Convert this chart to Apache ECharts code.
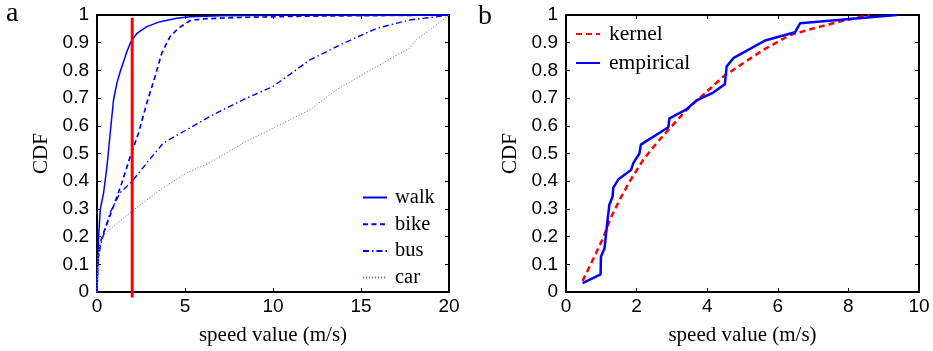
<!DOCTYPE html>
<html>
<head>
<meta charset="utf-8">
<script src="https://cdn.jsdelivr.net/npm/echarts@6/dist/echarts.min.js"></script>
<style>html,body{margin:0;padding:0;background:#fff}#c{width:933px;height:351px}</style>
</head>
<body>
<div id="c"></div>
<script>
// ---- data ----
const yTicks = [0,0.1,0.2,0.3,0.4,0.5,0.6,0.7,0.8,0.9,1];
const xTicksA = [0,5,10,15,20];
const xTicksB = [0,2,4,6,8,10];

const walkSpeed = [0,0.04,0.09,0.19,0.38,0.57,0.75,0.94,1.13,1.32,1.51,1.7,1.93,2.27,2.83,3.59,4.53,5.29,7,10,20];
const walkCdf   = [0,0.1,0.2,0.3,0.36,0.455,0.574,0.694,0.754,0.796,0.832,0.868,0.904,0.934,0.958,0.976,0.988,0.994,0.997,0.999,1];

const bikeSpeed = [0,0.05,0.19,0.38,0.94,1.42,1.89,2.36,2.83,3.3,3.68,4.15,4.62,5.29,6,8,12,20];
const bikeCdf   = [0,0.12,0.179,0.215,0.31,0.395,0.49,0.574,0.682,0.778,0.862,0.922,0.952,0.98,0.986,0.991,0.996,1];

const busSpeed = [0,0.05,0.19,0.75,1.32,2.0,2.83,3.77,5.1,6.42,8.3,10,12.1,14,15.9,17.75,19.6,20];
const busCdf   = [0,0.1,0.167,0.287,0.359,0.40,0.466,0.538,0.586,0.634,0.694,0.742,0.838,0.898,0.952,0.982,0.996,1];

const carSpeed = [0,0.05,0.19,0.75,1.89,3.77,5.1,6.42,8.3,10.2,12.1,13.6,15.5,17.75,18.13,19.9,20];
const carCdf   = [0,0.12,0.19,0.227,0.287,0.377,0.43,0.467,0.538,0.598,0.658,0.73,0.80,0.88,0.91,0.994,1];

const thresholdSpeed = [2,2];
const thresholdCdf = [-0.02,0.99];

const empSpeed = [0.47,0.98,0.99,1.09,1.18,1.23,1.32,1.34,1.48,1.84,1.91,2.08,2.12,2.9,2.93,3.4,3.7,4.17,4.5,4.55,4.74,5.64,6.49,6.63,9.37];
const empCdf   = [0.032,0.064,0.128,0.157,0.263,0.316,0.344,0.377,0.406,0.44,0.466,0.5,0.532,0.595,0.627,0.658,0.692,0.72,0.75,0.814,0.844,0.908,0.938,0.97,1.0];

const kerSpeed = [0.47,0.68,1.06,1.25,1.53,1.81,2.19,2.57,2.95,3.42,3.89,4.46,5.02,5.59,6.35,7.2,7.95,8.6];
const kerCdf   = [0.04,0.095,0.197,0.263,0.335,0.40,0.478,0.538,0.592,0.658,0.712,0.778,0.826,0.874,0.928,0.958,0.982,1.0];

const legendA = ['walk','bike','bus','car'];
const legendB = ['kernel','empirical'];
const xName = 'speed value (m/s)';
const yName = 'CDF';

// ---- helpers ----
const zip = (xs, ys) => xs.map((x, i) => [x, ys[i]]);
const SANS = '"Liberation Sans", Arial, sans-serif';
const SERIF = '"Liberation Serif", "Times New Roman", serif';
const fmt = v => String(+v.toFixed(1));

function xAxisPair(gi, max, interval) {
  const base = {
    gridIndex: gi, type: 'value', min: 0, max: max, interval: interval,
    splitLine: {show: false},
    axisLine: {show: true, onZero: false, lineStyle: {color: '#000', width: 2}},
    axisTick: {show: true, inside: true, length: 4, lineStyle: {color: '#000', width: 1}}
  };
  return [
    Object.assign({}, base, {
      position: 'bottom',
      axisLabel: {show: true, color: '#000', fontFamily: SANS, fontSize: 19, margin: 5, formatter: fmt},
      name: xName, nameLocation: 'middle', nameGap: 33,
      nameTextStyle: {color: '#000', fontFamily: SERIF, fontSize: 21}
    }),
    Object.assign({}, base, {position: 'top', axisLabel: {show: false}})
  ];
}
function yAxisPair(gi) {
  const base = {
    gridIndex: gi, type: 'value', min: 0, max: 1, interval: 0.1,
    splitLine: {show: false},
    axisLine: {show: true, onZero: false, lineStyle: {color: '#000', width: 2}},
    axisTick: {show: true, inside: true, length: 4, lineStyle: {color: '#000', width: 1}}
  };
  return [
    Object.assign({}, base, {
      position: 'left',
      axisLabel: {show: true, color: '#000', fontFamily: SANS, fontSize: 19, margin: 8, formatter: fmt},
      name: yName, nameLocation: 'middle', nameGap: 45, nameRotate: 90,
      nameTextStyle: {color: '#000', fontFamily: SERIF, fontSize: 21}
    }),
    Object.assign({}, base, {position: 'right', axisLabel: {show: false}})
  ];
}
function line(name, xs, ys, xi, yi, color, width, type, z) {
  return {
    name: name, type: 'line', xAxisIndex: xi, yAxisIndex: yi,
    data: zip(xs, ys), symbol: 'none', showSymbol: false, smooth: false,
    lineStyle: {color: color, width: width, type: type},
    itemStyle: {color: color},
    emphasis: {disabled: true}, silent: true, animation: false, z: z || 2
  };
}

const BLUE = '#0000ff';
const RED = '#ff0000';

const option = {
  animation: false,
  backgroundColor: '#fff',
  grid: [
    {left: 97, top: 15, width: 352, height: 278, containLabel: false},
    {left: 566, top: 15, width: 353, height: 278, containLabel: false}
  ],
  xAxis: [...xAxisPair(0, 20, 5), ...xAxisPair(1, 10, 2)],
  yAxis: [...yAxisPair(0), ...yAxisPair(1)],
  legend: [
    {
      data: legendA, orient: 'vertical', left: 357, top: 182,
      itemWidth: 24, itemHeight: 10, itemGap: 5.7, selectedMode: false,
      itemStyle: {opacity: 0},
      textStyle: {color: '#000', fontFamily: SERIF, fontSize: 20.5, lineHeight: 18, padding: [0, 0, 0, 3]}
    },
    {
      data: legendB, orient: 'vertical', left: 570, top: 18,
      itemWidth: 24, itemHeight: 10, itemGap: 7, selectedMode: false,
      itemStyle: {opacity: 0},
      textStyle: {color: '#000', fontFamily: SERIF, fontSize: 21.5, lineHeight: 19, padding: [0, 0, 0, 4]}
    }
  ],
  graphic: [
    {type: 'text', x: 6, y: 14, style: {text: 'a', font: '28px ' + SERIF, fill: '#000', verticalAlign: 'middle'}},
    {type: 'text', x: 478, y: 17, style: {text: 'b', font: '28px ' + SERIF, fill: '#000', verticalAlign: 'middle'}}
  ],
  series: [
    line('walk', walkSpeed, walkCdf, 0, 0, BLUE, 1.5, 'solid', 3),
    line('bike', bikeSpeed, bikeCdf, 0, 0, BLUE, 1.7, [5, 3.5], 3),
    line('bus', busSpeed, busCdf, 0, 0, BLUE, 1.4, [6, 3, 1.5, 3], 3),
    line('car', carSpeed, carCdf, 0, 0, '#6f6fff', 1, [1.2, 1.8], 3),
    Object.assign(line('threshold', thresholdSpeed, thresholdCdf, 0, 0, RED, 3, 'solid', 5), {clip: false}),
    line('kernel', kerSpeed, kerCdf, 2, 2, RED, 2.5, [6, 4], 3),
    line('empirical', empSpeed, empCdf, 2, 2, BLUE, 2.5, 'solid', 4)
  ]
};

const chart = echarts.init(document.getElementById('c'), null, {renderer: 'canvas'});
chart.setOption(option);
</script>
</body>
</html>
